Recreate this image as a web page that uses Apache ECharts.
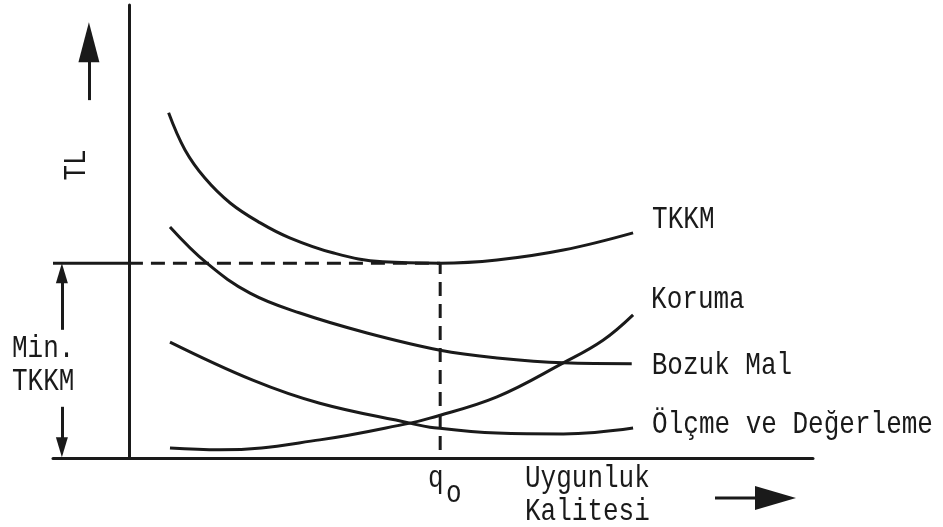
<!DOCTYPE html>
<html>
<head>
<meta charset="utf-8">
<script src="https://cdn.jsdelivr.net/npm/echarts@6/dist/echarts.min.js"></script>
<style>
html, body { margin: 0; padding: 0; background: #fff; }
#chart { width: 943px; height: 527px; }
</style>
</head>
<body>
<div id="chart"></div>
<script>
// [uygunluk kalitesi, maliyet (TL)]
const tkkm = [[0.58, 7.62], [0.82, 6.80], [1.11, 6.18], [1.48, 5.63], [1.92, 5.19], [2.35, 4.86],
  [2.98, 4.53], [3.71, 4.33], [4.55, 4.30], [5.38, 4.37], [6.35, 4.59], [7.37, 4.97]];
const bozukMal = [[0.60, 5.10], [1.14, 4.30], [1.77, 3.64], [2.50, 3.20], [3.48, 2.76],
  [4.55, 2.38], [5.38, 2.21], [6.35, 2.10], [7.35, 2.08]];
const olcme = [[0.60, 2.56], [1.81, 1.72], [2.79, 1.21], [4.11, 0.77], [4.40, 0.68],
  [5.38, 0.55], [6.35, 0.53], [7.37, 0.66]];
const koruma = [[0.60, 0.22], [1.33, 0.18], [2.79, 0.40], [4.11, 0.77], [4.40, 0.88],
  [5.38, 1.35], [6.35, 2.10], [6.93, 2.60], [7.37, 3.16]];
const curveNames = ["TKKM", "Koruma", "Bozuk Mal", "Ölçme ve Değerleme"];

const xMin = -1.11, xMax = 10, yMax = 10;

// minimum of total cost -> q0
let minPt = tkkm[0];
tkkm.forEach(p => { if (p[1] < minPt[1]) minPt = p; });
const qo = minPt[0];
const minCost = minPt[1];

const INK = "#1a1a1a";
const FONT = '26px "Liberation Mono"';
const SY = 1.18;

const chart = echarts.init(document.getElementById("chart"));

function curve(name, data) {
  return {
    name: name,
    type: "line",
    data: data,
    smooth: 0.4,
    showSymbol: false,
    symbol: "none",
    silent: true,
    lineStyle: { color: INK, width: 3 }
  };
}

function arrowSeg(x, y1, y2, size) {
  return [
    { coord: [x, y1], symbol: "none" },
    { coord: [x, y2], symbol: "triangle", symbolSize: size }
  ];
}

chart.setOption({
  animation: false,
  backgroundColor: "#fff",
  grid: { left: 53, right: 130, top: 5, bottom: 69 },
  xAxis: {
    type: "value", min: xMin, max: xMax,
    axisLine: { show: true, onZero: true, lineStyle: { color: INK, width: 3 } },
    axisTick: { show: false }, axisLabel: { show: false }, splitLine: { show: false }
  },
  yAxis: {
    type: "value", min: 0, max: yMax,
    axisLine: { show: true, onZero: true, lineStyle: { color: INK, width: 3 } },
    axisTick: { show: false }, axisLabel: { show: false }, splitLine: { show: false }
  },
  series: [
    {
      type: "line", silent: true, symbol: "none",
      data: [[0, minCost], [qo, minCost], [qo, 0]],
      lineStyle: { color: INK, width: 3, type: [14, 8] }
    },
    {
      type: "line", silent: true, symbol: "none",
      data: [[xMin, minCost], [0, minCost]],
      lineStyle: { color: INK, width: 3 },
      markLine: {
        silent: true,
        label: { show: false },
        lineStyle: { color: INK, width: 3, type: "solid" },
        emphasis: { disabled: true },
        data: [
          arrowSeg(-0.98, 2.83, minCost - 0.22, [12, 20]),
          arrowSeg(-0.98, 1.13, 0.24, [12, 20]),
          arrowSeg(-0.585, 7.90, 9.18, [21, 40])
        ]
      }
    },
    curve(curveNames[0], tkkm),
    curve(curveNames[1], koruma),
    curve(curveNames[2], bozukMal),
    curve(curveNames[3], olcme)
  ]
});

function txt(text, x, y, rot, align) {
  return {
    type: "text", x: x, y: y, scaleY: SY, rotation: rot || 0, silent: true,
    style: { text: text, font: FONT, fill: INK, align: align || "left", verticalAlign: "middle" }
  };
}

const labelOffsets = [[19, -13], [18, -15], [20, 2], [19, -3]];
const curveData = [tkkm, koruma, bozukMal, olcme];
const graphics = curveData.map((d, i) => {
  const p = chart.convertToPixel({ gridIndex: 0 }, d[d.length - 1]);
  return txt(curveNames[i], p[0] + labelOffsets[i][0], p[1] + labelOffsets[i][1]);
});

graphics.push(
  txt("TL", 77, 165, Math.PI / 2, "center"),
  txt("Min.", 12, 349),
  txt("TKKM", 12, 382),
  txt("q", 428, 479),
  txt("o", 446, 494),
  txt("Uygunluk", 525, 479),
  txt("Kalitesi", 525, 512),
  { type: "line", silent: true, shape: { x1: 715, y1: 498, x2: 758, y2: 498 }, style: { stroke: INK, lineWidth: 3 } },
  { type: "polygon", silent: true, shape: { points: [[755, 486], [796, 498], [755, 510]] }, style: { fill: INK } }
);

chart.setOption({ graphic: graphics });
</script>
</body>
</html>
